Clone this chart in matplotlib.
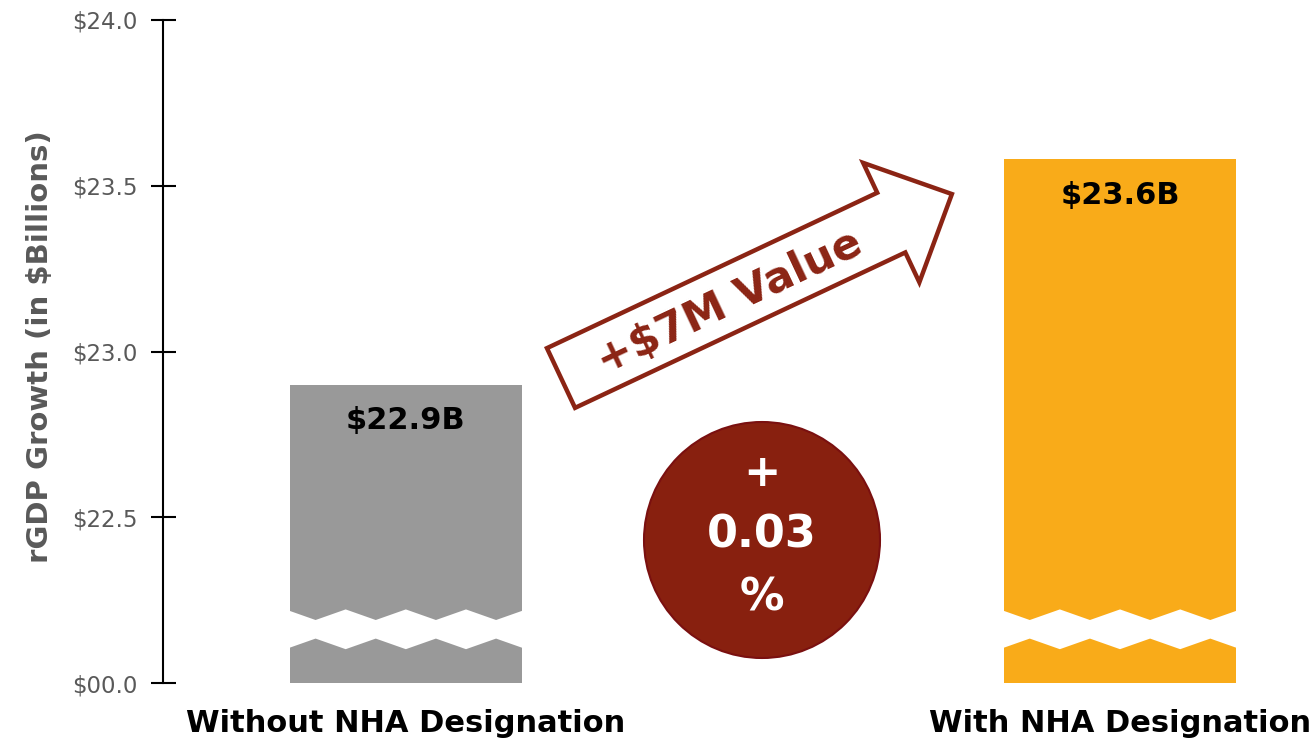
import numpy as np
import matplotlib
matplotlib.use('Agg')
import matplotlib.pyplot as plt
from matplotlib.patches import Polygon, Circle

# ---- data ----
categories = ['Without NHA Designation', 'With NHA Designation']
values = [22.9, 23.58]
value_labels = ['$22.9B', '$23.6B']
bar_colors = ['#999999', '#F9AB19']
ytick_values = [22.0, 22.5, 23.0, 23.5, 24.0]
ytick_labels = ['$00.0', '$22.5', '$23.0', '$23.5', '$24.0']
y_title = 'rGDP Growth (in $Billions)'
arrow_label = '+$7M Value'
circle_lines = ['+', '0.03', '%']

plt.rcParams['font.family'] = ['DejaVu Sans']

W, H = 1312, 742
fig = plt.figure(figsize=(W / 100, H / 100), dpi=100)
ax = fig.add_axes([163 / W, (H - 683) / H, (1300 - 163) / W, (683 - 20) / H])

x = np.arange(len(categories))
base = ytick_values[0]
bar_w = 0.325
ax.bar(x, np.array(values) - base, bottom=base, width=bar_w, color=bar_colors, zorder=2)
ax.set_xlim(-0.34, 1.252)
ax.set_ylim(ytick_values[0], ytick_values[-1])

# axis-break bands across bars
c = 22.162
i = np.arange(9)
for xi in x:
    xs = xi - bar_w / 2 - 0.006 + (bar_w + 0.012) * i / 8
    top = c + np.where(i % 2 == 0, 0.06, 0.028)
    bot = c - np.where(i % 2 == 0, 0.06, 0.028)
    verts = np.vstack([np.column_stack([xs, top]), np.column_stack([xs[::-1], bot[::-1]])])
    ax.add_patch(Polygon(verts, closed=True, facecolor='white', edgecolor='none', zorder=3))

for xi, v, lbl in zip(x, values, value_labels):
    ax.annotate(lbl, (xi, v), xytext=(0, -26), textcoords='offset points',
                ha='center', va='center', fontsize=22, fontweight='bold', color='black', zorder=4)

for s in ['top', 'right', 'bottom']:
    ax.spines[s].set_visible(False)
ax.spines['left'].set_linewidth(1.5)
ax.set_yticks(ytick_values, ytick_labels)
ax.tick_params(axis='y', direction='inout', length=18, width=1.5, pad=9,
               labelsize=16.5, labelcolor='#595959')
ax.set_xticks(x, categories, fontweight='bold')
ax.tick_params(axis='x', length=0, pad=18.5, labelsize=22, labelcolor='black')

ax.set_ylabel(y_title, fontsize=21, fontweight='bold', color='#595959')
ax.yaxis.label.set_va('center')
ax.yaxis.set_label_coords((40 - 163) / (1300 - 163), 0.508)

# ---- overlay annotations (pixel space) ----
ov = fig.add_axes([0, 0, 1, 1])
ov.set_xlim(0, W)
ov.set_ylim(H, 0)
ov.axis('off')
ov.patch.set_alpha(0)

red = '#88200F'
tail = np.array([561.0, 378.0])
ang = np.deg2rad(25.2)
u = np.array([np.cos(ang), -np.sin(ang)])
n = np.array([np.sin(ang), np.cos(ang)])
shaft_len, head_len, sw, hw = 365, 67, 33, 66
arrow = [tail - sw * n, tail - sw * n + shaft_len * u, tail - hw * n + shaft_len * u,
         tail + (shaft_len + head_len) * u, tail + hw * n + shaft_len * u,
         tail + sw * n + shaft_len * u, tail + sw * n]
ov.add_patch(Polygon(arrow, closed=True, facecolor='white', edgecolor='#8B2414',
                     linewidth=3.2, joinstyle='miter'))
tp = tail + 185 * u + 4 * n
ov.text(tp[0], tp[1], arrow_label, rotation=25.2, rotation_mode='anchor',
        ha='center', va='center', fontsize=31, fontweight='bold', color='#8B2414')

ov.add_patch(Circle((762, 540), 118, facecolor=red, edgecolor='#7A1010', linewidth=1.5))
for yy, t in zip([473, 535, 598], circle_lines):
    ov.text(762, yy, t, ha='center', va='center', fontsize=32, fontweight='bold', color='white')

fig.savefig('out.png', dpi=100)
